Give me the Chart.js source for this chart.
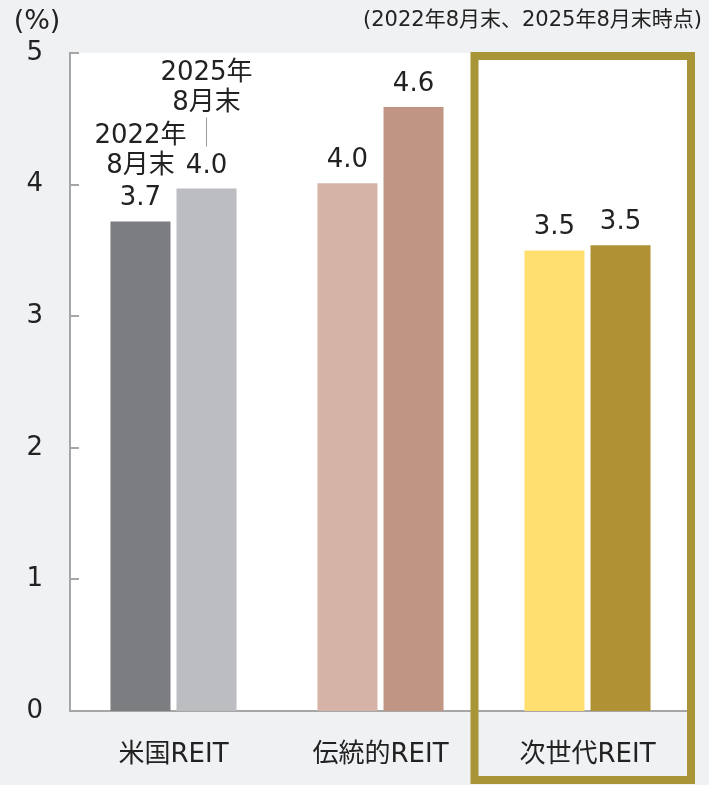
<!DOCTYPE html>
<html>
<head>
<meta charset="utf-8">
<script src="https://cdn.jsdelivr.net/npm/chart.js@4"></script>
<style>
html,body{margin:0;padding:0;background:#f0f1f3;}
#wrap{width:709px;height:785px;position:relative;}
</style>
</head>
<body>
<div id="wrap"><canvas id="c" width="709" height="785"></canvas></div>
<script>
const categories = ['米国REIT', '伝統的REIT', '次世代REIT'];
const yield2022 = [3.72, 4.01, 3.50];
const yield2025 = [3.97, 4.59, 3.54];
const colors2022 = ['#7c7d81', '#d5b4a7', '#ffdf70'];
const colors2025 = ['#bcbdc1', '#c09583', '#b09235'];
const yTicks = [0, 1, 2, 3, 4, 5];
const unitLabel = '(%)';
const noteText = '(2022年8月末、2025年8月末時点)';
const label2022 = ['2022年', '8月末'];
const label2025 = ['2025年', '8月末'];
const highlightIndex = 2;

const FONT = "'DejaVu Sans', 'Noto Sans CJK JP', sans-serif";
const TEXT = '#222222';
const AXIS = '#a6a6a6';
const BOX = '#a89538';

const decoPlugin = {
  id: 'deco',
  beforeDraw(chart) {
    const ctx = chart.ctx, a = chart.chartArea;
    ctx.save();
    ctx.fillStyle = '#f0f1f3';
    ctx.fillRect(0, 0, chart.width, chart.height);
    ctx.fillStyle = '#ffffff';
    ctx.fillRect(a.left, a.top, a.right - a.left + 4, a.bottom - a.top);
    ctx.restore();
  },
  afterDraw(chart) {
    const ctx = chart.ctx, a = chart.chartArea;
    const ys = chart.scales.y, xs = chart.scales.x;
    ctx.save();
    // inward tick marks
    ctx.strokeStyle = AXIS; ctx.lineWidth = 2;
    yTicks.forEach(v => {
      if (v === 0) return;
      const py = Math.round(ys.getPixelForValue(v));
      ctx.beginPath(); ctx.moveTo(a.left, py); ctx.lineTo(a.left + 9, py); ctx.stroke();
    });
    // titles
    ctx.fillStyle = TEXT;
    ctx.font = '27px ' + FONT;
    ctx.textAlign = 'center'; ctx.textBaseline = 'middle';
    ctx.fillText(unitLabel, 37, 22);
    ctx.font = '21px ' + FONT;
    ctx.textAlign = 'right';
    ctx.fillText(noteText, 702, 21);
    // value labels
    ctx.font = '26px ' + FONT;
    ctx.textAlign = 'center'; ctx.textBaseline = 'alphabetic';
    const m0 = chart.getDatasetMeta(0), m1 = chart.getDatasetMeta(1);
    m0.data.forEach((b, i) => ctx.fillText(yield2022[i].toFixed(1), b.x, b.y - 16));
    m1.data.forEach((b, i) => ctx.fillText(yield2025[i].toFixed(1), b.x, b.y - 16));
    // series annotations on first category
    const b0 = m0.data[0], b1 = m1.data[0];
    ctx.fillText(label2022[1], b0.x, b0.y - 48);
    ctx.fillText(label2022[0], b0.x, b0.y - 78);
    ctx.fillText(label2025[1], b1.x, b1.y - 79);
    ctx.fillText(label2025[0], b1.x, b1.y - 109);
    ctx.strokeStyle = '#9a9a9a'; ctx.lineWidth = 1;
    ctx.beginPath(); ctx.moveTo(Math.round(b1.x) - 0.5, b1.y - 42); ctx.lineTo(Math.round(b1.x) - 0.5, b1.y - 71); ctx.stroke();
    // highlight box
    const cx = xs.getPixelForValue(highlightIndex);
    ctx.strokeStyle = BOX; ctx.lineWidth = 8;
    ctx.strokeRect(cx - 113, a.top + 3, a.right - (cx - 113), 780 - (a.top + 3));
    ctx.restore();
  }
};

new Chart(document.getElementById('c'), {
  type: 'bar',
  data: {
    labels: categories,
    datasets: [
      { label: '2022年8月末', data: yield2022, backgroundColor: colors2022, categoryPercentage: 0.638, barPercentage: 0.909 },
      { label: '2025年8月末', data: yield2025, backgroundColor: colors2025, categoryPercentage: 0.638, barPercentage: 0.909 }
    ]
  },
  plugins: [decoPlugin],
  options: {
    responsive: false,
    animation: false,
    layout: { padding: { top: 53, right: 18, left: 0, bottom: 0 } },
    plugins: { legend: { display: false }, tooltip: { enabled: false } },
    scales: {
      x: {
        grid: { display: false, drawTicks: false },
        border: { display: true, color: AXIS, width: 2 },
        ticks: { color: TEXT, font: { family: FONT, size: 26 }, padding: 29 },
        afterFit(s) { s.height = 74; }
      },
      y: {
        min: 0, max: 5,
        afterBuildTicks(s) { s.ticks = yTicks.map(v => ({ value: v })); },
        grid: { display: false, drawTicks: false },
        border: { display: true, color: AXIS, width: 2 },
        ticks: { color: TEXT, font: { family: FONT, size: 26 }, padding: 27 },
        afterFit(s) { s.width = 70; }
      }
    }
  }
});
</script>
</body>
</html>
